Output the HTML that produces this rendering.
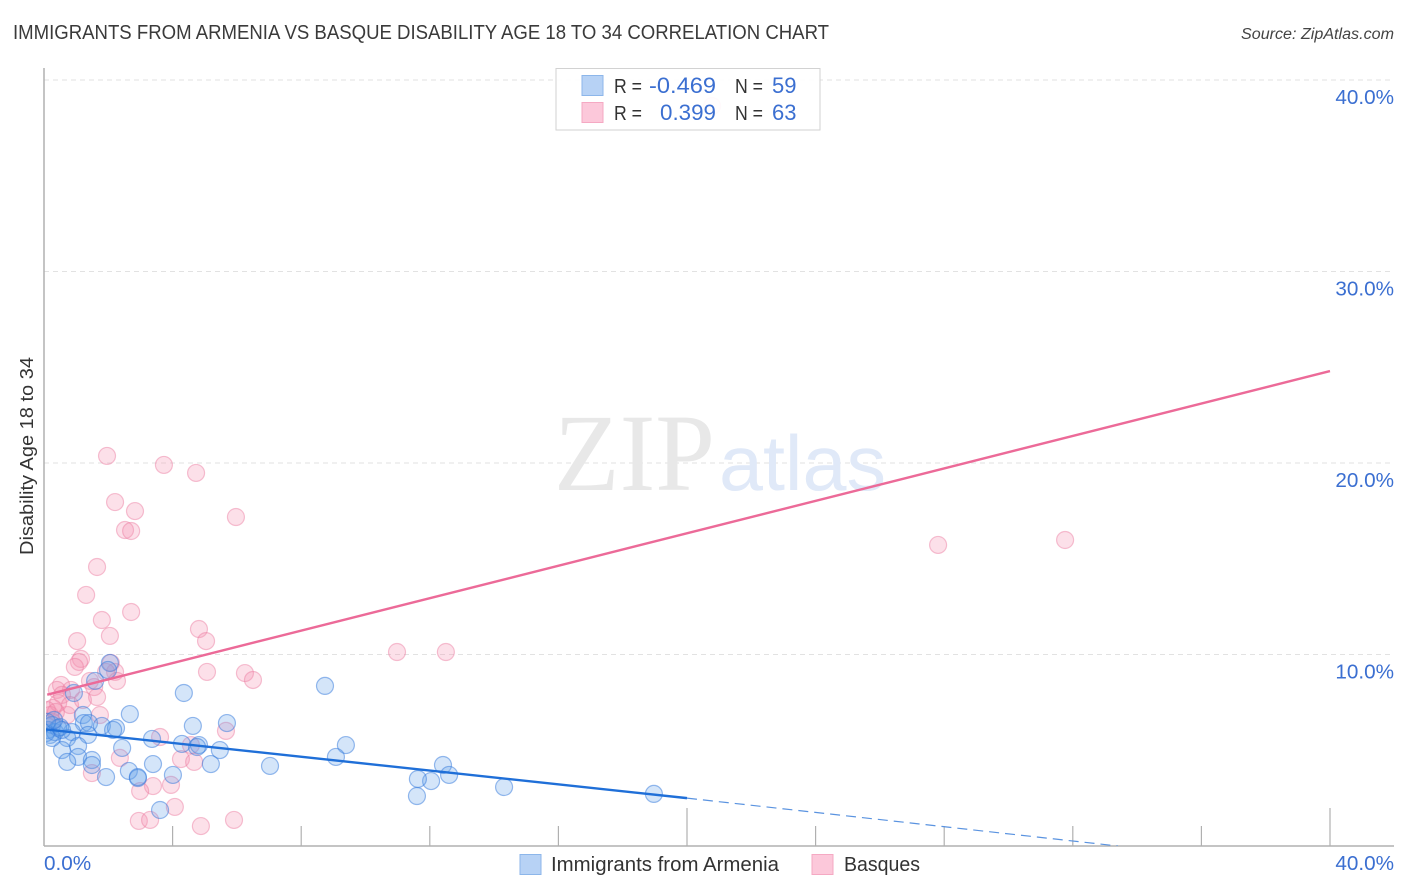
<!DOCTYPE html>
<html lang="en">
<head>
<meta charset="utf-8">
<title>Immigrants from Armenia vs Basque Disability Age 18 to 34 Correlation Chart</title>
<style>
html,body{margin:0;padding:0;background:#fff;width:1406px;height:892px;overflow:hidden}
svg{display:block}
text{font-family:"Liberation Sans",sans-serif}
</style>
</head>
<body>
<svg id="chart" xmlns="http://www.w3.org/2000/svg" width="1406" height="892" viewBox="0 0 1406 892">
  <defs>
    <clipPath id="plot-clip"><rect x="46" y="60" width="1348" height="786"/></clipPath>
  </defs>
  <rect width="1406" height="892" fill="#ffffff"/>
  <text x="13" y="39" font-size="20" fill="#3a3a3a" textLength="816" lengthAdjust="spacingAndGlyphs">IMMIGRANTS FROM ARMENIA VS BASQUE DISABILITY AGE 18 TO 34 CORRELATION CHART</text>
  <text x="1241" y="39" font-size="15.5" font-style="italic" fill="#444" textLength="153" lengthAdjust="spacingAndGlyphs">Source: ZipAtlas.com</text>
  <g id="grid"></g>
  <g>
    <text x="554" y="490" font-size="110" fill="#e8e8e8" style="font-family:'Liberation Serif',serif" textLength="161" lengthAdjust="spacingAndGlyphs">ZIP</text>
    <text x="719" y="490" font-size="78" fill="#e0e9f8" textLength="167" lengthAdjust="spacingAndGlyphs">atlas</text>
  </g>
  <g id="axes"></g>
  <g id="points-basque" clip-path="url(#plot-clip)"></g>
  <g id="points-armenia" clip-path="url(#plot-clip)"></g>
  <g id="trends" clip-path="url(#plot-clip)"></g>
  <g>
    <rect x="556" y="68.500" width="264" height="61.500" fill="#ffffff" fill-opacity="0.92" stroke="#d2d2d2" stroke-width="1"/>
    <rect x="582" y="75.500" width="21" height="20" fill="#b7d2f5" stroke="#8cb6ea" stroke-width="1"/>
    <rect x="582" y="102.500" width="21" height="20" fill="#fcc8da" stroke="#f5a9c3" stroke-width="1"/>
    <text x="614" y="93" font-size="20" fill="#333" textLength="28" lengthAdjust="spacingAndGlyphs">R =</text>
    <text x="649" y="93" font-size="22" fill="#3b6fd1" textLength="67" lengthAdjust="spacingAndGlyphs">-0.469</text>
    <text x="735" y="93" font-size="20" fill="#333" textLength="28" lengthAdjust="spacingAndGlyphs">N =</text>
    <text x="772" y="93" font-size="22" fill="#3b6fd1">59</text>
    <text x="614" y="120" font-size="20" fill="#333" textLength="28" lengthAdjust="spacingAndGlyphs">R =</text>
    <text x="660" y="120" font-size="22" fill="#3b6fd1" textLength="56" lengthAdjust="spacingAndGlyphs">0.399</text>
    <text x="735" y="120" font-size="20" fill="#333" textLength="28" lengthAdjust="spacingAndGlyphs">N =</text>
    <text x="772" y="120" font-size="22" fill="#3b6fd1">63</text>
  </g>
  <text transform="translate(33,456) rotate(-90)" font-size="18" fill="#333" text-anchor="middle" textLength="198" lengthAdjust="spacingAndGlyphs">Disability Age 18 to 34</text>
  <g>
    <g>
      <rect x="520" y="854.500" width="21" height="20" fill="#b7d2f5" stroke="#8cb6ea" stroke-width="1"/>
      <text x="551" y="871" font-size="20" fill="#333" textLength="228" lengthAdjust="spacingAndGlyphs">Immigrants from Armenia</text>
    </g>
    <g>
      <rect x="812" y="854.500" width="21" height="20" fill="#fcc8da" stroke="#f5a9c3" stroke-width="1"/>
      <text x="844" y="871" font-size="20" fill="#333" textLength="76" lengthAdjust="spacingAndGlyphs">Basques</text>
    </g>
  </g>
</svg>
<script>
const yTickValues = [10, 20, 30, 40];
const yTickLabels = ["10.0%", "20.0%", "30.0%", "40.0%"];
const xTickValues = [4, 8, 12, 16, 20, 24, 28, 32, 36, 40];
const xMajorTicks = [20, 40];
const xEndValues = [0, 40];
const xEndLabels = ["0.0%", "40.0%"];

const armeniaX = [2.05,1.99,1.59,0.93,4.35,2.67,1.21,5.69,4.63,1.24,1.40,1.80,2.24,2.15,1.37,0.87,0.72,0.56,1.06,1.06,1.49,0.72,1.49,2.43,3.36,3.39,4.29,4.82,4.76,5.47,5.19,2.64,2.92,2.92,4.01,1.93,3.61,0.19,0.25,0.12,0.34,0.44,0.06,0.25,0.50,0.56,0.09,0.31,8.74,9.39,9.08,7.03,12.41,12.60,12.04,11.63,11.60,14.31,18.97];
const armeniaY = [9.56,9.19,8.62,7.99,7.99,6.89,6.84,6.42,6.27,6.42,6.42,6.27,6.16,6.06,5.80,5.95,5.64,5.01,5.22,4.65,4.49,4.39,4.23,5.12,5.59,4.28,5.33,5.27,5.17,5.01,4.28,3.92,3.55,3.60,3.71,3.60,1.88,5.80,6.32,6.06,5.95,6.16,5.90,5.64,6.21,6.06,6.48,6.58,8.36,5.27,4.65,4.18,4.23,3.71,3.39,3.50,2.61,3.08,2.72];

const basqueX = [1.96,3.73,4.73,2.21,2.83,5.97,2.52,2.71,1.65,1.31,2.71,1.80,2.05,1.03,4.82,5.04,20.78,27.81,31.76,10.98,12.50,1.15,1.09,0.96,2.08,2.21,2.27,1.93,5.07,6.25,6.50,1.43,1.56,1.65,0.53,0.40,0.84,0.56,1.74,0.28,0.19,0.72,0.25,0.44,0.81,1.21,2.36,3.61,4.57,4.26,4.67,5.66,1.49,3.39,2.99,3.95,4.07,2.95,3.30,4.88,5.91,0.09,0.37];
const basqueY = [20.37,19.90,19.48,17.96,17.49,17.18,16.50,16.45,14.57,13.11,12.22,11.80,10.97,10.70,11.33,10.70,38.64,15.72,15.98,10.13,10.13,9.77,9.61,9.35,9.56,9.09,8.62,9.09,9.09,9.03,8.67,8.62,8.30,7.78,8.41,8.15,8.15,7.89,6.84,7.21,6.84,6.84,6.48,7.47,7.36,7.62,4.60,5.69,5.27,4.54,4.39,6.01,3.81,3.13,2.87,3.19,2.04,1.31,1.36,1.04,1.36,7.10,7.00];

const armeniaTrendX = [0, 20];
const armeniaTrendY = [6.1, 2.5];
const armeniaDashX = [20, 33.4];
const armeniaDashY = [2.5, 0];
const basqueTrendX = [0.1, 40];
const basqueTrendY = [7.9, 24.8];

const NS = 'http://www.w3.org/2000/svg';
const sx = v => 44 + v * 32.15;
const sy = v => 846 - v * 19.15;

function make(tag, attrs, parent, content) {
  const el = document.createElementNS(NS, tag);
  for (const k in attrs) el.setAttribute(k, attrs[k]);
  if (content !== undefined) el.textContent = content;
  parent.appendChild(el);
  return el;
}

const grid = document.getElementById('grid');
const axes = document.getElementById('axes');

yTickValues.forEach((v, i) => {
  const line = make('line', {x1: 44, x2: 1394, y1: sy(v), y2: sy(v), stroke: '#e2e2e2', 'stroke-width': 1, 'stroke-dasharray': '5 4'}, grid);
  
  
  const label = make('text', {x: 1394, y: sy(v) + 24, 'font-size': 20.7, fill: '#3b6fd1', 'text-anchor': 'end'}, axes, yTickLabels[i]);
  
  
});

const yAxis = make('line', {x1: 44, x2: 44, y1: 68, y2: 846, stroke: '#b0b0b0', 'stroke-width': 1.500}, axes);


const xAxis = make('line', {x1: 44, x2: 1394, y1: 846, y2: 846, stroke: '#b0b0b0', 'stroke-width': 1.500}, axes);



xTickValues.forEach(v => {
  const len = xMajorTicks.includes(v) ? 38 : 20;
  const tick = make('line', {x1: sx(v), x2: sx(v), y1: 846 - len, y2: 846, stroke: '#b0b0b0', 'stroke-width': 1.200}, axes);
  
  
});

xEndValues.forEach((v, i) => {
  const label = make('text', {x: i === 0 ? sx(v) : 1394, y: 870, 'font-size': 20.7, fill: '#3b6fd1', 'text-anchor': i === 0 ? 'start' : 'end'}, axes, xEndLabels[i]);
  
  
});

const basqueGroup = document.getElementById('points-basque');
basqueX.forEach((v, i) => {
  const c = make('circle', {cx: sx(v), cy: sy(basqueY[i]), r: 8.500, fill: 'rgba(244,143,177,0.28)', stroke: 'rgba(236,120,158,0.45)', 'stroke-width': 1.200}, basqueGroup);
  
  
});

const armeniaGroup = document.getElementById('points-armenia');
armeniaX.forEach((v, i) => {
  const c = make('circle', {cx: sx(v), cy: sy(armeniaY[i]), r: 8.500, fill: 'rgba(100,160,232,0.28)', stroke: 'rgba(50,120,220,0.5)', 'stroke-width': 1.200}, armeniaGroup);
  
  
});

const trends = document.getElementById('trends');
const t1 = make('line', {x1: sx(basqueTrendX[0]), y1: sy(basqueTrendY[0]), x2: sx(basqueTrendX[1]), y2: sy(basqueTrendY[1]), stroke: '#ec6a98', 'stroke-width': 2.400}, trends);


const t2 = make('line', {x1: sx(armeniaTrendX[0]), y1: sy(armeniaTrendY[0]), x2: sx(armeniaTrendX[1]), y2: sy(armeniaTrendY[1]), stroke: '#1f6fd8', 'stroke-width': 2.400}, trends);


const t3 = make('line', {x1: sx(armeniaDashX[0]), y1: sy(armeniaDashY[0]), x2: sx(armeniaDashX[1]), y2: sy(armeniaDashY[1]), stroke: '#5a93e0', 'stroke-width': 1.200, 'stroke-dasharray': '10 6'}, trends);


</script>
</body>
</html>
